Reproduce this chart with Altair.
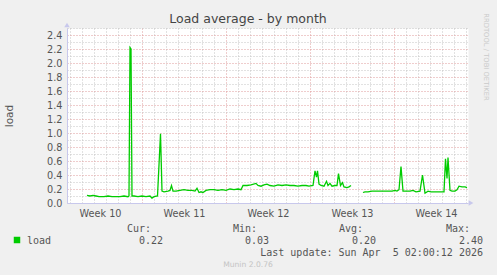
import altair as alt
import pandas as pd

TITLE = "Load average - by month"
Y_TITLE = "load"
SERIES_NAME = "load"
FIRST_WEEK = 10

# hours since Monday 2026-03-02 00:00 (week 10 start); None marks a gap in the data
hours = [58, 64, 70, 76, 82, 92, 100, 108, 116, 124, 132, 140, 142, 144, 146, 148,
         152, 160, 168, 176, 184, 188, 192, 199, 205, 208, 212, 220, 224, 227, 230,
         236, 244, 252, 260, 268, 274, 278, 282, 286, 290, 296, 304, 312, 320, 328,
         336, 344, 352, 360, 366, 370, 378, 386, 396, 400, 406, 412, 418, 424, 432,
         440, 448, 456, 464, 472, 480, 488, 496, 502, 510, 514, 517, 519, 522, 526,
         532, 537, 540, 544, 548, 554, 558, 561, 565, 569, 572, 578, 582, 586, 598,
         610, 614, 620, 628, 636, 644, 652, 660, 668, 674, 678, 682, 686, 690, 696,
         704, 710, 716, 724, 729, 734, 740, 746, 756, 766, 772, 775, 778, 780, 784,
         788, 794, 798, 802, 808, 814, 818]
load = [0.11, 0.10, 0.11, 0.10, 0.09, 0.09, 0.10, 0.09, 0.09, 0.09, 0.10, 0.09, 0.10, 2.22, 2.20, 0.10,
        0.10, 0.09, 0.10, 0.09, 0.10, 0.07, 0.09, 0.10, 0.99, 0.17, 0.16, 0.17, 0.18, 0.25, 0.17,
        0.17, 0.18, 0.19, 0.18, 0.18, 0.17, 0.21, 0.15, 0.16, 0.15, 0.18, 0.19, 0.19, 0.18, 0.19,
        0.18, 0.20, 0.19, 0.20, 0.19, 0.25, 0.25, 0.26, 0.28, 0.25, 0.24, 0.26, 0.27, 0.25, 0.24,
        0.26, 0.25, 0.26, 0.25, 0.25, 0.24, 0.25, 0.25, 0.24, 0.25, 0.46, 0.37, 0.46, 0.27, 0.25,
        0.24, 0.31, 0.25, 0.28, 0.24, 0.25, 0.25, 0.42, 0.25, 0.29, 0.23, 0.22, 0.23, 0.25, None,
        0.15, 0.16, 0.16, 0.17, 0.17, 0.17, 0.17, 0.17, 0.17, 0.18, 0.17, 0.19, 0.52, 0.17, 0.17,
        0.17, 0.18, 0.16, 0.17, 0.40, 0.14, 0.17, 0.16, 0.16, 0.16, 0.16, 0.63, 0.35, 0.65, 0.18,
        0.17, 0.17, 0.19, 0.24, 0.23, 0.23, 0.22]

stat_labels = ["Cur:", "Min:", "Avg:", "Max:"]
stat_values = ["0.22", "0.03", "0.20", "2.40"]
last_update = "Last update: Sun Apr\u00a0\u00a05 02:00:12 2026"
footer = "Munin 2.0.76"
watermark = "RRDTOOL / TOBI OETIKER"

# build segments (break the line at gaps)
rows, seg = [], 0
for h, v in zip(hours, load):
    if v is None:
        seg += 1
        continue
    rows.append({"hours": h, "load": v, "seg": seg})
df = pd.DataFrame(rows)

GREEN = "#00CC00"
TXT = "#555555"
GRID = "#C4C4C4"
MGRID = "#DE9A9A"
AXIS = "#C8C8EC"

x_vals = list(range(24, 820, 12))
y_vals = [round(i * 0.1, 1) for i in range(26)]

x_axis = alt.Axis(
    values=x_vals, title=None, ticks=False, labelOverlap=False, labelBound=False,
    labelFlush=False, labelFont="DejaVu Sans", labelFontSize=9.7, labelColor=TXT,
    labelPadding=5, domainColor=AXIS, grid=True, gridDash=[1, 2], gridWidth=1,
    gridColor={"condition": {"test": "datum.value % 168 == 0", "value": MGRID}, "value": GRID},
    gridOpacity={"condition": {"test": "datum.value % 24 == 0", "value": 1}, "value": 0},
    labelExpr=f"(datum.value - 84) % 168 == 0 ? 'Week ' + ({FIRST_WEEK} + floor(datum.value / 168)) : ''",
)
y_axis = alt.Axis(
    values=y_vals, title=Y_TITLE, ticks=False, labelOverlap=False, labelBound=False,
    labelFlush=False, labelFont="DejaVu Sans", labelFontSize=9.7, labelColor=TXT,
    labelPadding=5, domainColor=AXIS, grid=True, gridDash=[1, 2], gridWidth=1,
    gridColor={"condition": {"test": "abs(datum.value * 5 - round(datum.value * 5)) < 0.001 && datum.value > 0", "value": MGRID}, "value": GRID},
    labelExpr="abs(datum.value * 5 - round(datum.value * 5)) < 0.001 && datum.value < 2.45 ? format(datum.value, '.1f') : ''",
    titleFont="DejaVu Sans", titleFontSize=10.5, titleFontWeight="normal", titleColor=TXT,
    titleX=-58, titleY=87.5, titleBaseline="middle", titleAngle=270,
)

line = alt.Chart(df).mark_line(color=GREEN, strokeWidth=1.3, interpolate="linear").encode(
    x=alt.X("hours:Q", scale=alt.Scale(domain=[18, 820], nice=False, zero=False), axis=x_axis),
    y=alt.Y("load:Q", scale=alt.Scale(domain=[0, 2.5], nice=False, zero=True), axis=y_axis),
    detail="seg:N",
)

one = pd.DataFrame({"k": [0]})


def txt(s, x, y, **kw):
    return alt.Chart(one).mark_text(text=s, **kw).encode(x=alt.value(x), y=alt.value(y))


mono = dict(font="DejaVu Sans Mono", fontSize=10, color=TXT, baseline="alphabetic")
layers = [line]
layers.append(txt(TITLE, 181, -5.5, font="DejaVu Sans", fontSize=12.5, color="#444444",
                  align="center", baseline="alphabetic"))
head_x = [84, 190, 296, 403]
val_x = [96, 202, 309, 416]
for lab, hx in zip(stat_labels, head_x):
    layers.append(txt(lab, hx, 204, align="right", **mono))
for v, vx in zip(stat_values, val_x):
    layers.append(txt(v, vx, 215.5, align="right", **mono))
layers.append(txt(SERIES_NAME, -40, 215.5, align="left", **mono))
layers.append(txt(last_update, 416, 227.5, align="right", **mono))
layers.append(txt(footer, 181, 239, font="DejaVu Sans", fontSize=7.6, color="#C4C4C4",
                  align="center", baseline="alphabetic"))
layers.append(txt(watermark, 419, 29, font="DejaVu Sans", fontSize=6.8, color="#CACACA",
                  align="center", baseline="middle", angle=90))
layers.append(alt.Chart(one).mark_square(color=GREEN, size=42, opacity=1).encode(
    x=alt.value(-50), y=alt.value(212)))
layers.append(alt.Chart(one).mark_point(shape="triangle-up", filled=True, size=30, color=AXIS, opacity=1).encode(
    x=alt.value(0), y=alt.value(-3)))
layers.append(alt.Chart(one).mark_point(shape="triangle-right", filled=True, size=30, color=AXIS, opacity=1).encode(
    x=alt.value(404), y=alt.value(175)))

chart = alt.layer(*layers).properties(
    width=401, height=175,
    autosize=alt.AutoSizeParams(type="none"),
    padding={"left": 67, "top": 28, "right": 29, "bottom": 72},
    background="#F0F0F0",
).configure_view(fill="white", stroke="transparent")

chart.save("out.html", embed_options={"renderer": "svg", "actions": False})
